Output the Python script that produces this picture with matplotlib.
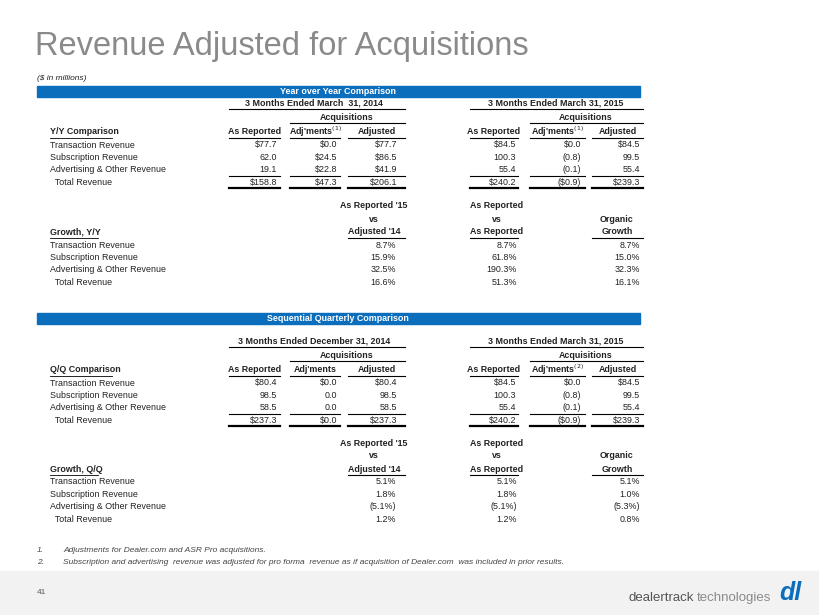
import matplotlib.pyplot as plt
from matplotlib.patches import Rectangle

plt.rcParams['font.family'] = ['Liberation Sans', 'DejaVu Sans']

rows = ['Transaction Revenue', 'Subscription Revenue', 'Advertising & Other Revenue', '  Total Revenue']

# Y/Y comparison
yy_2014 = [['$77.7', '62.0', '19.1', '$158.8'],
           ['$0.0', '$24.5', '$22.8', '$47.3'],
           ['$77.7', '$86.5', '$41.9', '$206.1']]
yy_2015 = [['$84.5', '100.3', '55.4', '$240.2'],
           ['$0.0', '(0.8)', '(0.1)', '($0.9)'],
           ['$84.5', '99.5', '55.4', '$239.3']]
yy_growth = [['8.7%', '15.9%', '32.5%', '16.6%'],
             ['8.7%', '61.8%', '190.3%', '51.3%'],
             ['8.7%', '15.0%', '32.3%', '16.1%']]

# Q/Q comparison
qq_2014 = [['$80.4', '98.5', '58.5', '$237.3'],
           ['$0.0', '0.0', '0.0', '$0.0'],
           ['$80.4', '98.5', '58.5', '$237.3']]
qq_2015 = [['$84.5', '100.3', '55.4', '$240.2'],
           ['$0.0', '(0.8)', '(0.1)', '($0.9)'],
           ['$84.5', '99.5', '55.4', '$239.3']]
qq_growth = [['5.1%', '1.8%', '(5.1%)', '1.2%'],
             ['5.1%', '1.8%', '(5.1%)', '1.2%'],
             ['5.1%', '1.0%', '(5.3%)', '0.8%']]

fig = plt.figure(figsize=(8.2, 6.15), dpi=100)
ax = fig.add_axes([0, 0, 1, 1])
ax.set_xlim(0, 820)
ax.set_ylim(615, 0)
ax.axis('off')

FS = 6.4
BLUE = '#0a6ebd'
TXT = '#222222'

def t(x, y, s, ha='left', **kw):
    kw.setdefault('fontsize', FS)
    kw.setdefault('color', TXT)
    return ax.text(x, y, s, ha=ha, va='center', **kw)

def hl(x0, x1, y, lw=0.8):
    ax.plot([x0, x1], [y, y], color='black', lw=lw)

ax.text(35, 47, 'Revenue Adjusted for Acquisitions', fontsize=23.5, color='#8a8a8a', va='center')
t(37, 79, '($ in millions)', style='italic', fontsize=6)

left_cols = [277, 337, 397]
right_cols = [516, 581, 640]
col_spans_l = [(229, 280), (290, 340), (348, 405)]
col_spans_r = [(470, 518), (530, 585), (592, 643)]

def band(y, label):
    ax.add_patch(Rectangle((37, y), 603, 11, color=BLUE))
    t(338, y + 5.5, label, ha='center', color='white', weight='bold')

def comp_block(y0, title, lt, rt, ldata, rdata, adj_l, adj_r):
    t(314, y0, lt, ha='center', weight='bold')
    hl(229, 405, y0 + 6)
    t(556, y0, rt, ha='center', weight='bold')
    hl(470, 643, y0 + 6)
    t(347, y0 + 14, 'Acquisitions', ha='center', weight='bold')
    hl(290, 405, y0 + 20)
    t(586, y0 + 14, 'Acquisitions', ha='center', weight='bold')
    hl(530, 643, y0 + 20)
    yh = y0 + 29
    t(50, yh, title, weight='bold')
    hl(50, 50 + len(title) * 4.4, yh + 6, 0.6)
    for spans, heads in ((col_spans_l, ['As Reported', adj_l, 'Adjusted']),
                         (col_spans_r, ['As Reported', adj_r, 'Adjusted'])):
        for (a, b), h in zip(spans, heads):
            t((a + b) / 2, yh, h, ha='center', weight='bold')
            hl(a, b, yh + 6)
    ys = [yh + 13 + 12.4 * i for i in range(4)]
    for y, r in zip(ys, rows):
        t(50, y, r)
    for cols, spans, data in ((left_cols, col_spans_l, ldata), (right_cols, col_spans_r, rdata)):
        for x, (a, b), vals in zip(cols, spans, data):
            for y, v in zip(ys, vals):
                t(x, y, v, ha='right')
            hl(a, b, ys[2] + 6)
            hl(a, b, ys[3] + 6, 1.6)

def growth_block(y0, title, data):
    t(374, y0, "As Reported '15", ha='center', weight='bold')
    t(374, y0 + 13, 'vs', ha='center', weight='bold')
    t(374, y0 + 26, "Adjusted '14", ha='center', weight='bold')
    hl(348, 405, y0 + 32)
    t(497, y0, 'As Reported', ha='center', weight='bold')
    t(497, y0 + 13, 'vs', ha='center', weight='bold')
    t(497, y0 + 26, 'As Reported', ha='center', weight='bold')
    hl(470, 518, y0 + 32)
    t(617, y0 + 13, 'Organic', ha='center', weight='bold')
    t(617, y0 + 26, 'Growth', ha='center', weight='bold')
    hl(592, 643, y0 + 32)
    t(50, y0 + 26, title, weight='bold')
    hl(50, 50 + len(title) * 4.4, y0 + 32, 0.6)
    ys = [y0 + 39 + 12.4 * i for i in range(4)]
    for y, r in zip(ys, rows):
        t(50, y, r)
    for x, vals in zip([396, 517, 640], data):
        for y, v in zip(ys, vals):
            t(x, y, v, ha='right')

band(86, 'Year over Year Comparison')
comp_block(103, 'Y/Y Comparison', '3 Months Ended March  31, 2014', '3 Months Ended March 31, 2015',
           yy_2014, yy_2015, "Adj'ments$^{(1)}$", "Adj'ments$^{(1)}$")
growth_block(206, 'Growth, Y/Y', yy_growth)

band(313, 'Sequential Quarterly Comparison')
comp_block(341, 'Q/Q Comparison', '3 Months Ended December 31, 2014', '3 Months Ended March 31, 2015',
           qq_2014, qq_2015, "Adj'ments", "Adj'ments$^{(2)}$")
growth_block(443, 'Growth, Q/Q', qq_growth)

fn_color = '#444444'
t(37, 551, '1.', style='italic', fontsize=6, color=fn_color)
t(63, 551, 'Adjustments for Dealer.com and ASR Pro acquisitions.', style='italic', fontsize=6, color=fn_color)
t(37, 563, '2.', style='italic', fontsize=6, color=fn_color)
t(63, 563, 'Subscription and advertising  revenue was adjusted for pro forma  revenue as if acquisition of Dealer.com  was included in prior results.',
  style='italic', fontsize=6, color=fn_color)

ax.add_patch(Rectangle((0, 571), 820, 44, color='#f2f2f2'))
t(37, 592, '41', fontsize=6, color='#555555')
t(694, 598, 'dealertrack', ha='right', fontsize=9.5, color='#555555')
t(697, 598, 'technologies', ha='left', fontsize=9.5, color='#8a8a8a')
t(790, 593, 'dl', ha='center', fontsize=18, color=BLUE, weight='heavy', style='italic')

fig.savefig('out.png', dpi=100)
